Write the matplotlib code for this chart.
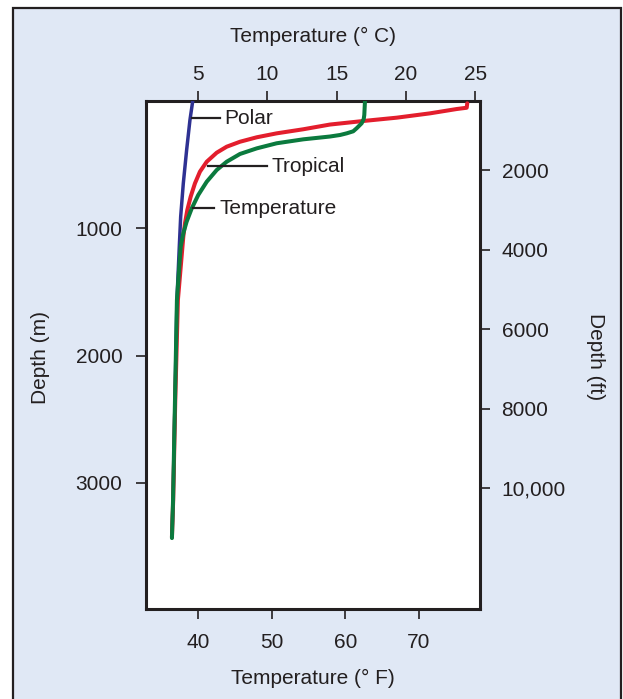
import matplotlib
matplotlib.use("Agg")
import matplotlib.pyplot as plt
from matplotlib.patches import Rectangle

plt.rcParams['font.family'] = ['Liberation Sans', 'DejaVu Sans']

# temperature (deg C) vs depth (m)
polar_c = [4.62, 4.42, 4.18, 3.94, 3.75, 3.65, 3.48, 3.34, 3.20, 3.12]
polar_m = [0, 149, 385, 647, 909, 1145, 1563, 2349, 3134, 3425]

tropical_c = [24.43, 24.39, 23.67, 21.74, 19.34, 16.93, 14.52, 12.60, 10.68, 9.24,
              8.03, 7.07, 6.35, 5.63, 5.14, 4.78, 4.47, 4.23, 4.06, 3.94,
              3.55, 3.36, 3.21, 3.12]
tropical_m = [18, 53, 63, 97, 131, 157, 185, 222, 254, 285,
              320, 359, 406, 477, 555, 647, 752, 856, 961, 1066,
              1563, 2349, 3134, 3425]

temperate_c = [17.05, 17.0, 16.96, 16.81, 16.45, 16.2, 15.73, 15.25, 14.52, 12.60,
               10.68, 9.24, 8.03, 7.07, 6.35, 5.63, 5.02, 4.55, 4.18, 3.94,
               3.75, 3.48, 3.34, 3.20, 3.12]
temperate_m = [0, 110, 141, 175, 214, 238, 254, 267, 279, 301,
               332, 372, 416, 477, 542, 634, 738, 843, 948, 1039,
               1145, 1563, 2349, 3134, 3433]

c_ticks = [5, 10, 15, 20, 25]
f_ticks = [40, 50, 60, 70]
m_ticks = [1000, 2000, 3000]
ft_ticks = [2000, 4000, 6000, 8000, 10000]
ft_labels = ['2000', '4000', '6000', '8000', '10,000']

labels = [('Polar', 118), ('Tropical', 166), ('Temperature', 208)]

ink = '#231f20'
bg = '#e0e8f5'
fs = 15

fig = plt.figure(figsize=(6.23, 6.99), dpi=100)
fig.patch.set_facecolor('white')
fig.patches.append(Rectangle((13.5 / 623, -0.05), (621 - 13.5) / 623, 1.05 - 7.5 / 699,
                             transform=fig.transFigure, facecolor=bg,
                             edgecolor=ink, linewidth=1.6, zorder=-5))

ax = fig.add_axes([146 / 623, 1 - 609 / 699, 334 / 623, 508 / 699])
ax.set_facecolor('white')
line_kw = dict(solid_capstyle='round', solid_joinstyle='round')
ax.plot(polar_c, polar_m, color='#2e3192', lw=2.5, zorder=3, **line_kw)
ax.plot(tropical_c, tropical_m, color='#e31e2d', lw=2.9, zorder=4, **line_kw)
ax.plot(temperate_c, temperate_m, color='#0b7a3e', lw=2.9, zorder=5, **line_kw)

ax.set_xlim(1.248, 25.35)
ax.set_ylim(3990, 0)

tick_kw = dict(direction='out', length=7, width=1.2, labelsize=fs, colors=ink)

# bottom axis in deg F
axf = ax.twiny()
axf.set_xlim(32.94, 78.28)
axf.xaxis.tick_bottom()
axf.set_xticks(f_ticks)
axf.tick_params(axis='x', pad=10, **tick_kw)

# right axis in feet
axft = ax.twinx()
axft.set_ylim(13044, 264)
axft.set_yticks(ft_ticks)
axft.set_yticklabels(ft_labels)
axft.tick_params(axis='y', pad=8.5, **tick_kw)
for a in (axf, axft):
    for s in a.spines.values():
        s.set_visible(False)

# twins reset the host's tick sides, so set them afterwards
ax.xaxis.tick_top()
ax.yaxis.tick_left()
ax.set_xticks(c_ticks)
ax.set_yticks(m_ticks)
ax.tick_params(axis='x', pad=5, **tick_kw)
ax.tick_params(axis='y', pad=10, **tick_kw)
for s in ax.spines.values():
    s.set_linewidth(2.2)
    s.set_color(ink)

# leader lines and curve names
def px(x, y):
    return x / 623, 1 - y / 699

starts = [191.5, 208, 193]
ends = [219.5, 267, 214]
for (name, y), x0, x1 in zip(labels, starts, ends):
    fig.lines.append(plt.Line2D([px(x0, y)[0], px(x1, y)[0]], [px(x0, y)[1]] * 2,
                                transform=fig.transFigure, color=ink, lw=1.6, zorder=10))
    fig.text(px(x1 + 5, y)[0], px(x1, y + 1)[1], name, fontsize=fs, color=ink,
             ha='left', va='center', zorder=10)

fig.text(*px(313, 36), 'Temperature (° C)', fontsize=fs, color=ink, ha='center', va='center')
fig.text(*px(313, 678), 'Temperature (° F)', fontsize=fs, color=ink, ha='center', va='center')
fig.text(*px(41, 357), 'Depth (m)', fontsize=fs, color=ink, ha='center', va='center',
         rotation=90)
fig.text(*px(596, 357), 'Depth (ft)', fontsize=fs, color=ink, ha='center', va='center',
         rotation=-90)

fig.savefig('out.png', dpi=100, facecolor=fig.get_facecolor())
